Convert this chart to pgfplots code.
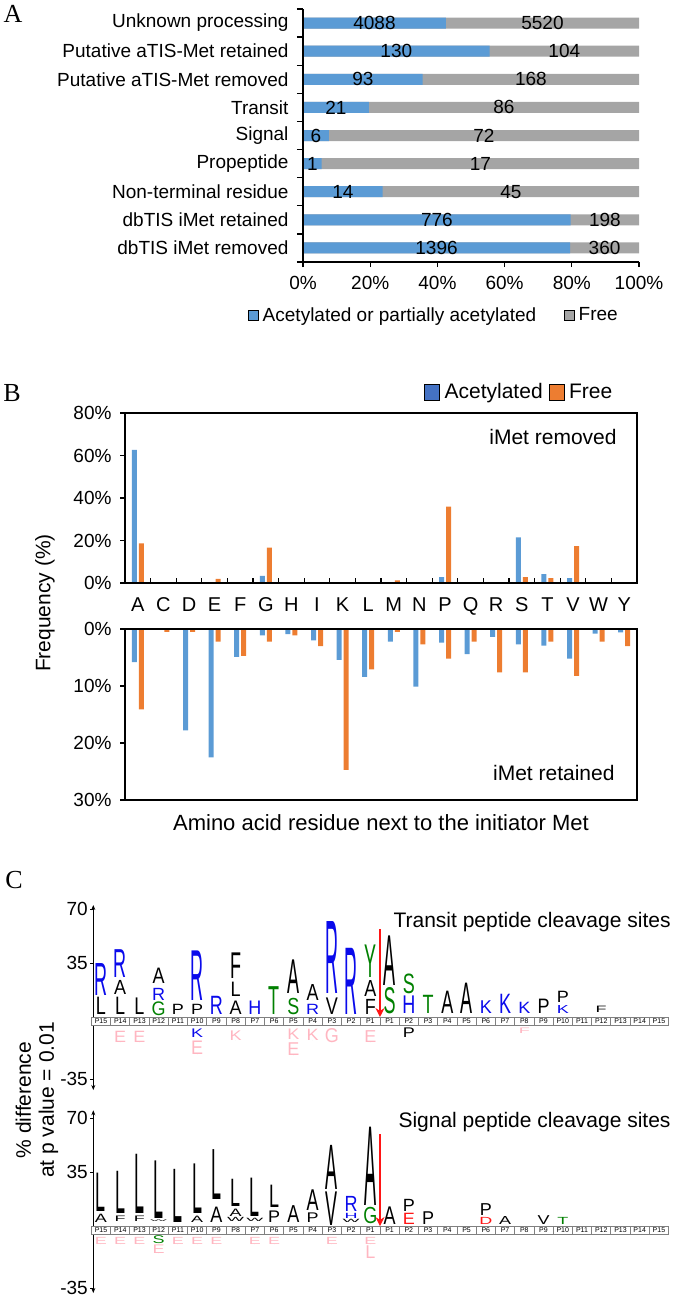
\documentclass[border=0pt]{standalone}
\usepackage{pgfplots}
\usepackage{pgfplotstable}
\pgfplotsset{compat=1.18}
\usepackage{graphicx}
\usepackage{fontspec}
\setmainfont{Liberation Sans}
\newfontfamily\tnr{Liberation Serif}
\usetikzlibrary{arrows.meta}

\definecolor{acblue}{HTML}{5B9BD5}
\definecolor{legblue}{HTML}{4472C4}
\definecolor{frorange}{HTML}{ED7D31}
\definecolor{frgray}{HTML}{A5A5A5}
% logo letter colours: 0 black, 1 blue, 2 green, 3 pink, 4 red
\definecolor{lc0}{RGB}{0,0,0}
\definecolor{lc1}{RGB}{10,10,235}
\definecolor{lc2}{RGB}{0,128,0}
\definecolor{lc3}{RGB}{255,182,193}
\definecolor{lc4}{RGB}{255,20,20}

\newcommand\fs[1]{\fontsize{#1}{#1}\selectfont}
\pgfplotsset{/pgf/number format/assume math mode=true}

% panel A: counts per category (row 8 = top)
\pgfplotstableread{
pos acet free
8 4088 5520
7 130 104
6 93 168
5 21 86
4 6 72
3 1 17
2 14 45
1 776 198
0 1396 360
}\dataA

% panel B: frequency (%) of residue after iMet
\pgfplotstableread{
i aa accR frR accT frT
0 A 62.7 18.7 5.8 14.1
1 C 0 0 0 0.5
2 D 0 0 17.8 0.5
3 E 0 1.9 22.5 2.2
4 F 0 0 4.9 4.7
5 G 3.3 16.6 1.1 2.2
6 H 0 0 0.9 1.1
7 I 0 0 2.0 3.0
8 K 0 0 5.4 24.7
9 L 0 0 8.4 7.1
10 M 0 1.2 2.2 0.5
11 N 0 0 10.1 2.7
12 P 2.8 35.9 2.4 5.2
13 Q 0 0 4.4 2.2
14 R 0 0 1.4 7.6
15 S 21.5 2.8 2.7 7.6
16 T 4.2 2.3 2.9 2.2
17 V 2.3 17.3 5.2 8.2
18 W 0 0 0.8 2.2
19 Y 0 0 0.6 3.0
}\dataB

% position strip
\pgfplotstableread{
x lab
1 P15
2 P14
3 P13
4 P12
5 P11
6 P10
7 P9
8 P8
9 P7
10 P6
11 P5
12 P4
13 P3
14 P2
15 P1
16 P1
17 P2
18 P3
19 P4
20 P5
21 P6
22 P7
23 P8
24 P9
25 P10
26 P11
27 P12
28 P13
29 P14
30 P15
}\strip

% transit peptide logo: x, letter bottom, letter height (% difference), letter, colour
\pgfplotstableread{
x yb h l c
1 1.7 11.7 L 0
1 14.0 21.6 R 1
2 1.7 11.7 L 0
2 14.7 9.5 A 0
2 25.5 18.8 R 1
3 1.7 11.2 L 0
4 1.1 9.1 G 2
4 10.8 8.2 R 1
4 21.6 10.4 A 0
5 1.7 6.9 P 0
6 1.7 6.9 P 0
6 10.8 33.5 R 1
7 1.7 12.3 R 1
8 1.7 9.1 A 0
8 13.0 9.7 L 0
8 24.8 17.3 F 0
9 1.7 9.1 H 1
10 1.7 18.8 T 2
11 1.7 10.8 S 2
11 15.1 22.7 A 0
12 1.7 6.9 R 1
12 10.8 10.8 A 0
13 1.7 11.2 V 0
13 15.1 48.6 R 1
14 1.7 44.7 R 1
15 1.7 10.2 F 0
15 13.0 10.8 A 0
15 25.5 22.0 Y 2
16 2.2 17.3 S 2
16 20.5 33.5 A 0
17 2.2 11.9 H 1
17 15.1 13.0 S 2
18 2.2 12.3 T 2
19 2.2 15.1 A 0
20 2.2 20.5 A 0
21 2.2 8.6 K 1
22 2.2 13.0 K 1
23 2.2 7.6 K 1
24 2.2 9.7 P 0
25 2.2 5.4 K 1
25 9.7 7.6 P 0
27 2.8 4.3 F 0
2 -16.2 7.6 E 3
3 -16.2 7.6 E 3
6 -13.4 5.8 K 1
6 -24.2 9.1 E 3
8 -15.1 6.5 K 3
11 -14.7 7.1 K 3
11 -24.8 8.6 E 3
12 -15.1 7.6 K 3
13 -16.8 9.3 G 3
15 -16.2 8.0 E 3
17 -13.0 6.5 P 0
23 -10.8 3.7 F 3
}\transit

% signal peptide logo
\pgfplotstableread{
x yb h l c
1 2.2 5.6 A 0
1 9.3 25.9 L 0
2 2.8 3.7 F 0
2 8.2 28.5 L 0
3 2.8 3.7 F 0
3 8.2 40.0 L 0
4 3.2 1.1 W 0
4 5.0 38.9 L 0
5 2.2 35.9 L 0
6 2.2 4.3 A 0
6 8.2 33.5 L 0
7 2.2 10.4 A 0
7 17.3 33.7 L 0
8 2.8 2.8 W 0
8 6.5 5.0 A 0
8 12.5 18.4 L 0
9 2.8 2.2 W 0
9 6.0 25.9 L 0
10 2.2 7.8 P 0
10 12.1 15.1 L 0
11 2.2 11.4 A 0
12 2.2 6.5 P 0
12 10.4 14.0 A 0
13 0.6 22.7 V 0
13 23.8 29.8 A 0
14 2.2 2.2 W 0
14 4.8 3.5 H 1
14 9.3 10.2 R 1
15 1.7 10.8 G 2
15 13.6 52.9 A 0
16 1.1 11.9 A 0
17 1.1 7.6 E 4
17 9.7 8.2 P 0
18 1.1 8.6 P 0
21 1.1 4.8 D 4
21 7.1 8.0 P 0
22 1.1 5.4 A 0
24 1.1 6.0 V 0
25 1.1 4.8 T 2
1 -11.7 4.8 E 3
2 -11.7 4.8 E 3
3 -11.7 4.8 E 3
4 -11.7 5.2 S 2
4 -18.1 5.8 E 3
5 -11.7 4.8 E 3
6 -11.7 4.8 E 3
7 -11.7 4.8 E 3
9 -11.7 4.8 E 3
10 -11.7 4.8 E 3
13 -11.7 4.8 E 3
15 -11.7 4.8 E 3
15 -20.9 8.6 L 3
}\signal

\pgfplotsset{
  labelplot/.style={only marks, mark=*, mark size=0pt, draw=none, fill=none, forget plot},
  logoaxis/.style={
    anchor=south west, x=19.24pt, y=1.543pt,
    xmin=0.6, xmax=30.5,
    axis x line=none, axis y line=left, xtick=\empty,
    y axis line style={line width=0.8pt, arrows={Stealth[length=5pt,width=4pt]-Stealth[length=5pt,width=4pt]}},
    ytick={-40.2,35,70}, yticklabels={-35,35,70},
    tick align=outside, major tick length=3pt,
    every tick/.style={black, line width=0.8pt},
    tick label style={font=\fs{19}},
    yticklabel style={anchor=east, xshift=1pt},
    clip=false,
  },
  letters/.style={labelplot,
    point meta=explicit symbolic,
    visualization depends on={\thisrow{h} \as \hh},
    visualization depends on={\thisrow{c} \as \cc},
    nodes near coords={\pgfmathsetmacro\ff{\hh*1.543/12.9}\pgfmathtruncatemacro\ci{\cc}\textcolor{lc\ci}{\scalebox{1}[\ff]{\pgfplotspointmeta}}},
    every node near coord/.append style={anchor=south, inner sep=0pt, outer sep=0pt, font=\fs{18}},
  },
}

\begin{document}
\begin{tikzpicture}
\useasboundingbox (0,0) rectangle (675pt,-1300pt);

\node[font=\tnr\fs{26}] at (13pt,-14pt) {A};
\node[font=\tnr\fs{26}] at (12pt,-393pt) {B};
\node[font=\tnr\fs{26}] at (14pt,-880pt) {C};

% ---------- A ----------
\begin{axis}[
  at={(303pt,-262pt)}, anchor=south west,
  scale only axis, width=336pt, height=253pt,
  xmin=0, xmax=100, ymin=-0.5, ymax=8.5,
  axis x line*=bottom, axis y line*=left, axis on top,
  axis line style={line width=1.3pt, black},
  every tick/.style={black, line width=1.3pt},
  tick align=outside, major tick length=5pt, minor tick length=6pt,
  xtick={0,20,...,100},
  xticklabel={\pgfmathprintnumber{\tick}\%},
  ytick={0,...,8},
  yticklabels={dbTIS iMet removed,dbTIS iMet retained,Non-terminal residue\ ,Propeptide,Signal,Transit,Putative aTIS-Met removed,Putative aTIS-Met retained,Unknown processing},
  major y tick style={draw=none},
  minor ytick={-0.5,0.5,...,8.5},
  tick label style={font=\fs{19}},
  yticklabel style={xshift=-6pt},
  xticklabel style={yshift=-6pt},
  legend image code/.code={\fill[#1] (0pt,-5pt) rectangle (10pt,5pt);},
  legend style={at={(0.39,-0.209)}, anchor=center, draw=none, fill=none,
    font=\fs{19}, legend columns=2,
    /tikz/every odd column/.append style={column sep=2pt},
    /tikz/every even column/.append style={column sep=26pt}},
  clip=false,
]
\addlegendimage{fill=acblue}
\addlegendentry{Acetylated or partially acetylated}
\addlegendimage{fill=frgray}
\addlegendentry{Free}
\addplot[xbar, bar width=11pt, bar shift=0pt, fill=frgray, draw=none, forget plot]
  table[y=pos, x expr=100] {\dataA};
\addplot[xbar, bar width=11pt, bar shift=0pt, fill=acblue, draw=none, forget plot]
  table[y=pos, x expr={100*\thisrow{acet}/(\thisrow{acet}+\thisrow{free})}] {\dataA};
\addplot[labelplot, point meta=explicit symbolic, nodes near coords,
  every node near coord/.append style={anchor=center, font=\fs{19}, text=black}]
  table[y=pos, x expr={50*\thisrow{acet}/(\thisrow{acet}+\thisrow{free})}, meta=acet] {\dataA};
\addplot[labelplot, point meta=explicit symbolic, nodes near coords,
  every node near coord/.append style={anchor=center, font=\fs{19}, text=black}]
  table[y=pos, x expr={100*(\thisrow{acet}+0.5*\thisrow{free})/(\thisrow{acet}+\thisrow{free})}, meta=free] {\dataA};
\end{axis}

% ---------- B upper ----------
\begin{axis}[
  at={(125pt,-583pt)}, anchor=south west,
  scale only axis, width=512pt, height=170pt,
  xmin=-0.5, xmax=19.5, ymin=0, ymax=80, axis on top,
  axis line style={line width=1.3pt},
  every tick/.style={black, line width=1.3pt},
  tick align=inside, major tick length=5pt, minor tick length=5pt,
  xtick={0,...,19},
  xticklabels={A,C,D,E,F,G,H,I,K,L,M,N,P,Q,R,S,T,V,W,Y},
  major x tick style={draw=none},
  minor xtick={0.5,1.5,...,18.5},
  xtick pos=left, ytick pos=left,
  ytick={0,20,...,80},
  yticklabel={\pgfmathprintnumber{\tick}\%},
  y tick style={xshift=-5pt},
  tick label style={font=\fs{19}},
  xticklabel style={font=\fs{20}, yshift=-11pt},
  yticklabel style={xshift=-10pt},
  legend image code/.code={\fill[#1] (0pt,-8pt) rectangle (15pt,8pt);},
  legend style={at={(0.770,1.124)}, anchor=center, draw=none, fill=none,
    font=\fs{21}, legend columns=2,
    /tikz/every odd column/.append style={column sep=3pt},
    /tikz/every even column/.append style={column sep=4pt}},
  clip=false,
]
\addlegendimage{fill=legblue}
\addlegendentry{Acetylated}
\addlegendimage{fill=frorange}
\addlegendentry{Free}
\addplot[ybar, bar width=5pt, bar shift=-3.5pt, fill=acblue, draw=none, forget plot]
  table[x=i, y=accR] {\dataB};
\addplot[ybar, bar width=5pt, bar shift=3.5pt, fill=frorange, draw=none, forget plot]
  table[x=i, y=frR] {\dataB};
\node[anchor=east, font=\fs{21}] at (axis description cs:0.967,0.859) {iMet removed};
\end{axis}

% ---------- B lower ----------
\begin{axis}[
  at={(125pt,-800pt)}, anchor=south west,
  scale only axis, width=512pt, height=171pt,
  xmin=-0.5, xmax=19.5, ymin=0, ymax=30, y dir=reverse, axis on top,
  axis line style={line width=1.3pt},
  every tick/.style={black, line width=1.3pt},
  tick align=inside, major tick length=5pt, minor tick length=5pt,
  xtick=\empty,
  minor xtick={0.5,1.5,...,18.5},
  xtick pos=left, ytick pos=left,
  ytick={0,10,20,30},
  yticklabel={\pgfmathprintnumber{\tick}\%},
  y tick style={xshift=-5pt},
  tick label style={font=\fs{19}},
  yticklabel style={xshift=-10pt},
  clip=false,
]
\addplot[ybar, bar width=5pt, bar shift=-3.5pt, fill=acblue, draw=none]
  table[x=i, y=accT] {\dataB};
\addplot[ybar, bar width=5pt, bar shift=3.5pt, fill=frorange, draw=none]
  table[x=i, y=frT] {\dataB};
\node[anchor=east, font=\fs{21}] at (axis description cs:0.963,0.158) {iMet retained};
\end{axis}

\node[rotate=90, font=\fs{21}] at (45pt,-603pt) {Frequency (\%)};
\node[font=\fs{22}] at (381pt,-823pt) {Amino acid residue next to the initiator Met};

% ---------- C transit ----------
\begin{axis}[logoaxis, at={(93.3pt,-1090pt)}, ymin=-47.3, ymax=72.6]
\addplot[ybar, bar width=19.24pt, bar shift=0pt, fill=white, draw=gray, line width=0.8pt, forget plot]
  table[x=x, y expr=-5.2] {\strip};
\addplot[labelplot, point meta=explicit symbolic, nodes near coords,
  every node near coord/.append style={anchor=center, inner sep=0pt, font=\fs{7}, text=black}]
  table[x=x, y expr=-2.6, meta=lab] {\strip};
\addplot[letters] table[x=x, y=yb, meta=l] {\transit};
\addplot[lc4, line width=2.2pt, -{Stealth[length=9pt,width=9pt]}, forget plot]
  coordinates {(15.5,57) (15.5,0)};
\end{axis}
\node[anchor=west, font=\fs{21}] at (390pt,-922pt) {Transit peptide cleavage sites};

% ---------- C signal ----------
\begin{axis}[logoaxis, at={(93.3pt,-1293pt)}, ymin=-43.4, ymax=75]
\addplot[ybar, bar width=19.24pt, bar shift=0pt, fill=white, draw=gray, line width=0.8pt, forget plot]
  table[x=x, y expr=-5.2] {\strip};
\addplot[labelplot, point meta=explicit symbolic, nodes near coords,
  every node near coord/.append style={anchor=center, inner sep=0pt, font=\fs{7}, text=black}]
  table[x=x, y expr=-2.6, meta=lab] {\strip};
\addplot[letters] table[x=x, y=yb, meta=l] {\signal};
\addplot[lc4, line width=2.2pt, -{Stealth[length=9pt,width=9pt]}, forget plot]
  coordinates {(15.5,59.6) (15.5,0)};
\end{axis}
\node[anchor=west, font=\fs{21}] at (395pt,-1122pt) {Signal peptide cleavage sites};

\node[rotate=90, align=center, font=\fontsize{21}{23}\selectfont] at (37pt,-1100pt) {\% difference\\at p value = 0.01};

\end{tikzpicture}
\end{document}
